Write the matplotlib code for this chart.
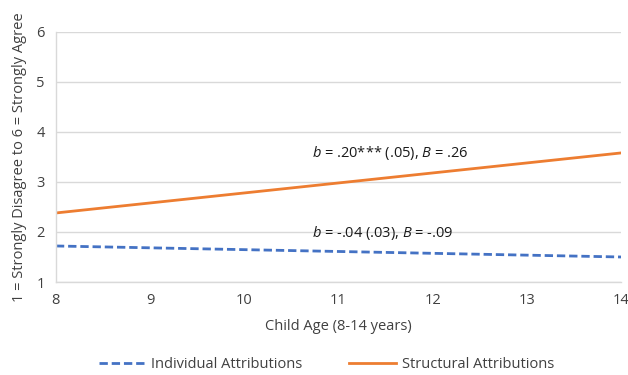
import matplotlib
matplotlib.use('Agg')
import matplotlib.pyplot as plt

# Data
age = [8, 14]
individual = [1.72, 1.50]
structural = [2.38, 3.58]
xticks = [8, 9, 10, 11, 12, 13, 14]
yticks = [1, 2, 3, 4, 5, 6]

plt.rcParams['font.family'] = ['Open Sans', 'DejaVu Sans']
plt.rcParams['mathtext.fontset'] = 'custom'
plt.rcParams['mathtext.it'] = 'Open Sans:italic'
plt.rcParams['mathtext.rm'] = 'Open Sans'

fig = plt.figure(figsize=(6.28, 3.75), dpi=100)
ax = fig.add_axes([0.089, 0.248, 0.900, 0.667])

ax.plot(age, individual, color='#4472C4', lw=2.0, ls=(0, (3.0, 1.4)),
        label='Individual Attributions')
ax.plot(age, structural, color='#ED7D31', lw=2.0, label='Structural Attributions')

ax.set_xlim(8, 14)
ax.set_ylim(1, 6)
ax.set_xticks(xticks)
ax.set_yticks(yticks)
ax.tick_params(length=0, labelsize=10.5, colors='#404040', pad=8)
ax.grid(axis='y', color='#D9D9D9', lw=1)
ax.set_axisbelow(True)
for s in ['top', 'right']:
    ax.spines[s].set_visible(False)
for s in ['left', 'bottom']:
    ax.spines[s].set_color('#D9D9D9')
    ax.spines[s].set_linewidth(1)

ax.set_xlabel('Child Age (8-14 years)', fontsize=10.5, color='#404040', labelpad=8)
ax.set_ylabel('1 = Strongly Disagree to 6 = Strongly Agree', fontsize=10.5,
              color='#404040', labelpad=7)

ax.text(10.72, 3.58, r'$\it{b}$ = .20*** (.05), $\it{B}$ = .26', fontsize=10.5,
        color='#1a1a1a', va='center')
ax.text(10.72, 1.98, r'$\it{b}$ = -.04 (.03), $\it{B}$ = -.09', fontsize=10.5,
        color='#1a1a1a', va='center')

fig.legend(loc='center', bbox_to_anchor=(0.52, 0.027), ncol=2, frameon=False,
           fontsize=10.5, handlelength=3.2, columnspacing=3.2, handletextpad=0.4,
           labelcolor='#404040')

fig.savefig('out.png', dpi=100)
